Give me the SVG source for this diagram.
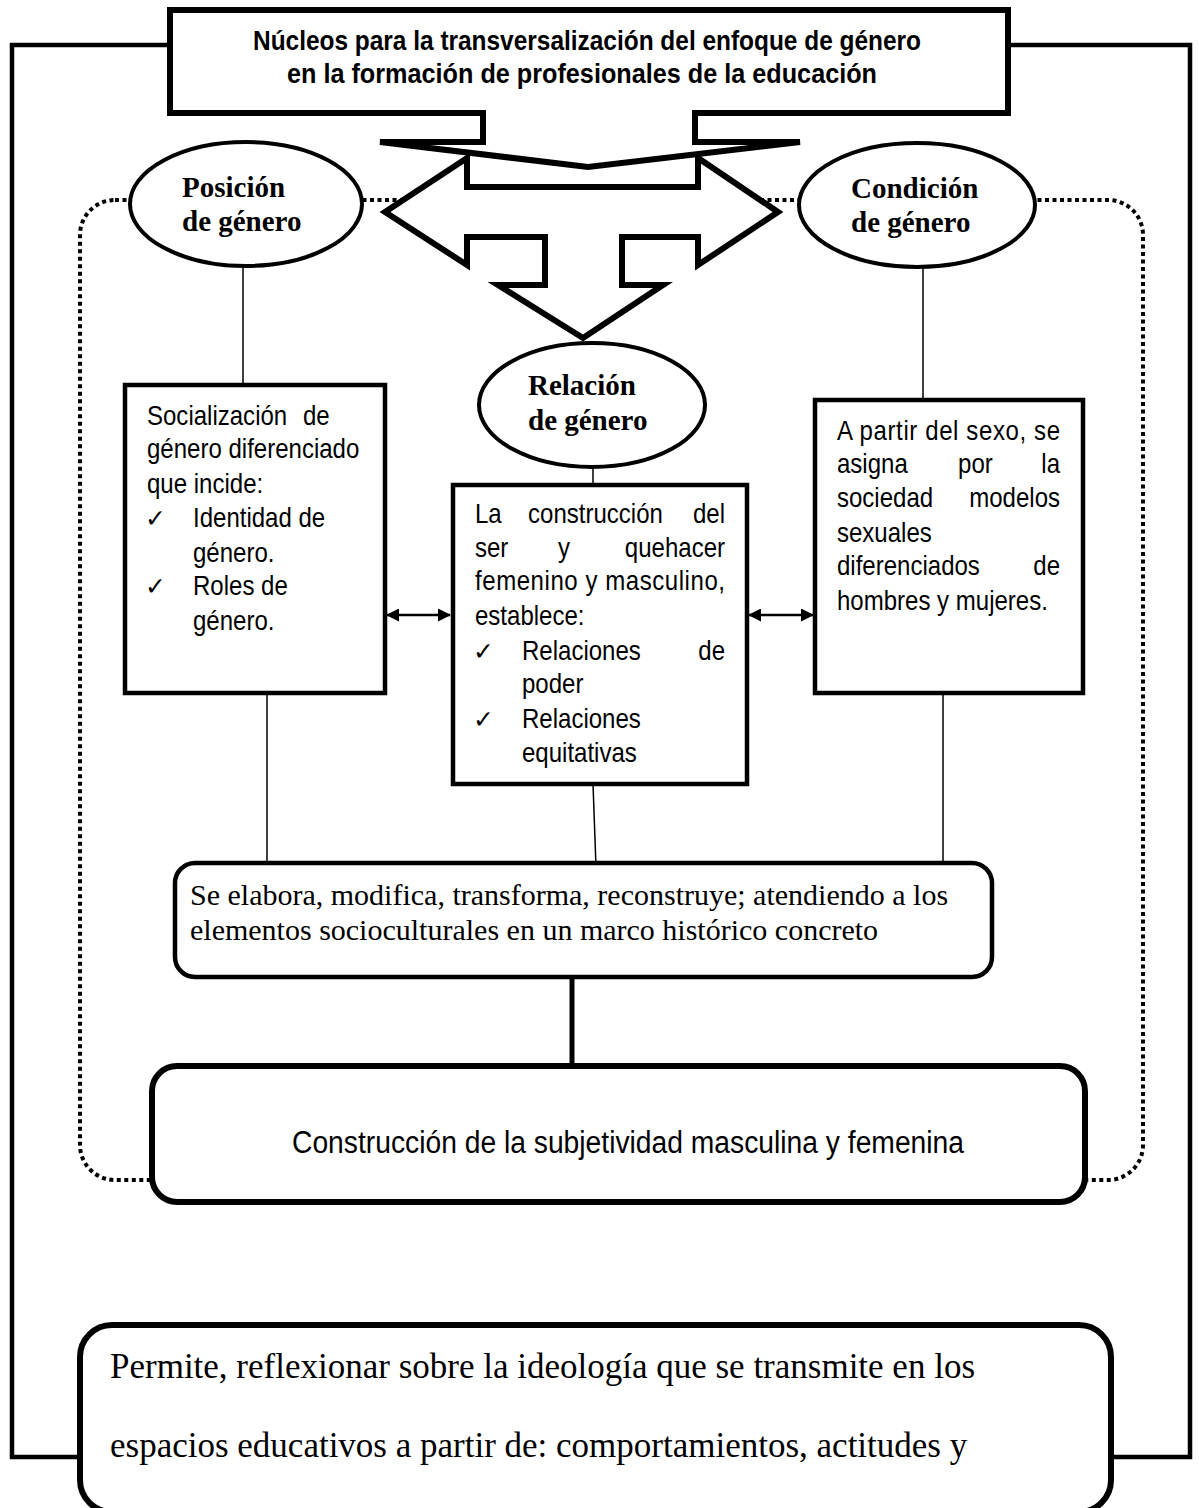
<svg xmlns="http://www.w3.org/2000/svg" width="1199" height="1508" viewBox="0 0 1199 1508">
  <defs>
    <style>
      .box { fill: #fff; stroke: #000; stroke-width: 4.5; }
      .heavy { fill: #fff; stroke: #000; stroke-width: 6; stroke-linejoin: miter; }
      .ell { fill: #fff; stroke: #000; stroke-width: 4; }
      .thin { fill: none; stroke: #000; stroke-width: 1.5; }
      .wire { fill: none; stroke: #000; stroke-width: 4.5; }
      .dots { fill: none; stroke: #000; stroke-width: 4; stroke-dasharray: 4 3.5; }
      .sans { font-family: "Liberation Sans", Arial, sans-serif; font-size: 27px; fill: #000; }
      .head { font-family: "Liberation Sans", Arial, sans-serif; font-size: 27px; font-weight: bold; fill: #000; }
      .big { font-family: "Liberation Sans", Arial, sans-serif; font-size: 31px; fill: #000; }
      .oval { font-family: "Liberation Serif", "Times New Roman", serif; font-size: 29px; font-weight: bold; fill: #000; }
      .serif { font-family: "Liberation Serif", "Times New Roman", serif; font-size: 30px; fill: #000; }
      .serifL { font-family: "Liberation Serif", "Times New Roman", serif; font-size: 35px; fill: #000; }
      .chk { font-family: "DejaVu Sans", sans-serif; font-size: 25px; fill: #000; }
      .end { text-anchor: end; }
    </style>
    <marker id="tip" viewBox="0 0 13 13" refX="12" refY="6.5" markerWidth="13" markerHeight="13" markerUnits="userSpaceOnUse" orient="auto-start-reverse">
      <path d="M0,0 L13,6.5 L0,13 Z" fill="#000"/>
    </marker>
  </defs>

  <!-- dotted frame around the three cores -->
  <g id="frame">
    <rect class="dots" x="80" y="200" width="1063" height="980" rx="35" ry="35"/>
  </g>

  <!-- links between blocks -->
  <g id="connectors">
    <polyline class="wire" points="170,45 12,45 12,1457 80,1457"/>
    <polyline class="wire" points="1008,45 1190,45 1190,1457 1111,1457"/>
    <line class="thin" x1="243" y1="266" x2="243" y2="385"/>
    <line class="thin" x1="923" y1="267" x2="923" y2="412"/>
    <line class="thin" x1="593" y1="467" x2="593" y2="485"/>
    <line class="thin" x1="267" y1="693" x2="267" y2="863"/>
    <line class="thin" x1="593" y1="784" x2="596" y2="867"/>
    <line class="thin" x1="943" y1="693" x2="943" y2="863"/>
    <line x1="387" y1="615" x2="450" y2="615" stroke="#000" stroke-width="2.5" marker-start="url(#tip)" marker-end="url(#tip)"/>
    <line x1="749" y1="615" x2="813" y2="615" stroke="#000" stroke-width="2.5" marker-start="url(#tip)" marker-end="url(#tip)"/>
    <line x1="572" y1="977" x2="572" y2="1066" stroke="#000" stroke-width="5"/>
  </g>

  <!-- title block -->
  <g id="titulo">
    <polygon class="heavy" points="170,10 1008,10 1008,113 695,113 695,142 800,142 588,167 380,142 483,142 483,113 170,113"/>
    <text class="head" x="253" y="50" textLength="668" lengthAdjust="spacingAndGlyphs">Núcleos para la transversalización del enfoque de género</text>
    <text class="head" x="287" y="83" textLength="590" lengthAdjust="spacingAndGlyphs">en  la formación de profesionales de la educación</text>
  </g>

  <!-- three-way arrow -->
  <g id="flecha">
    <polygon class="heavy" points="385,212 467,158 467,187 698,187 698,158 778,212 698,265 698,237 622,237 622,285 663,285 583,338 498,285 545,285 545,237 467,237 467,265"/>
  </g>

  <g id="posicion">
    <ellipse class="ell" cx="246" cy="204" rx="116" ry="62"/>
    <text class="oval" x="182" y="197">Posición</text>
    <text class="oval" x="182" y="231">de género</text>
  </g>

  <g id="condicion">
    <ellipse class="ell" cx="917" cy="205" rx="118" ry="62"/>
    <text class="oval" x="851" y="198">Condición</text>
    <text class="oval" x="851" y="232">de género</text>
  </g>

  <g id="relacion">
    <ellipse class="ell" cx="592" cy="405" rx="113" ry="62"/>
    <text class="oval" x="528" y="395">Relación</text>
    <text class="oval" x="528" y="430">de género</text>
  </g>

  <g id="socializacion">
    <rect class="box" x="125" y="385" width="260" height="308"/>
    <text class="chk" x="145" y="527">✓</text>
    <text class="chk" x="145" y="595">✓</text>
    <!-- narrow body text: horizontal squeeze about the left margin -->
    <g transform="matrix(0.89 0 0 1 16.17 0)">
      <text class="sans" x="147" y="425">Socialización</text>
      <text class="sans" x="322.3" y="425">de</text>
      <text class="sans" x="147" y="458">género diferenciado</text>
      <text class="sans" x="147" y="493">que incide:</text>
      <text class="sans" x="198.7" y="527">Identidad de</text>
      <text class="sans" x="198.7" y="562">género.</text>
      <text class="sans" x="198.7" y="595">Roles de</text>
      <text class="sans" x="198.7" y="630">género.</text>
    </g>
  </g>

  <g id="construccion-ser">
    <rect class="box" x="453" y="485" width="294" height="299"/>
    <text class="chk" x="473" y="660">✓</text>
    <text class="chk" x="473" y="728">✓</text>
    <g transform="matrix(0.89 0 0 1 52.25 0)">
      <text class="sans" x="475" y="523">La</text>
      <text class="sans" x="534.6" y="523">construcción</text>
      <text class="sans end" x="755.9" y="523">del</text>
      <text class="sans" x="475" y="557">ser</text>
      <text class="sans" x="568.3" y="557">y</text>
      <text class="sans end" x="755.9" y="557">quehacer</text>
      <text class="sans" x="475" y="590" textLength="280.9" lengthAdjust="spacing">femenino y masculino,</text>
      <text class="sans" x="475" y="625">establece:</text>
      <text class="sans" x="527.8" y="660">Relaciones</text>
      <text class="sans end" x="755.9" y="660">de</text>
      <text class="sans" x="527.8" y="693">poder</text>
      <text class="sans" x="527.8" y="728">Relaciones</text>
      <text class="sans" x="527.8" y="762">equitativas</text>
    </g>
  </g>

  <g id="asignacion">
    <rect class="box" x="815" y="400" width="268" height="293"/>
    <g transform="matrix(0.89 0 0 1 92.07 0)">
      <text class="sans" x="837" y="440" textLength="250.6" lengthAdjust="spacing">A partir del sexo, se</text>
      <text class="sans" x="837" y="473">asigna</text>
      <text class="sans" x="973" y="473">por</text>
      <text class="sans end" x="1087.6" y="473">la</text>
      <text class="sans" x="837" y="507">sociedad</text>
      <text class="sans end" x="1087.6" y="507">modelos</text>
      <text class="sans" x="837" y="542">sexuales</text>
      <text class="sans" x="837" y="575">diferenciados</text>
      <text class="sans end" x="1087.6" y="575">de</text>
      <text class="sans" x="837" y="610">hombres y mujeres.</text>
    </g>
  </g>

  <g id="elaboracion">
    <rect class="box" x="175" y="863" width="817" height="114" rx="20" ry="20"/>
    <text class="serif" x="190" y="905">Se elabora, modifica, transforma, reconstruye; atendiendo a los</text>
    <text class="serif" x="190" y="940">elementos socioculturales en un marco histórico concreto</text>
  </g>

  <g id="subjetividad">
    <rect class="heavy" x="152" y="1066" width="933" height="136" rx="25" ry="25"/>
    <text class="big" x="292" y="1153" textLength="672" lengthAdjust="spacingAndGlyphs">Construcción de la subjetividad masculina y femenina</text>
  </g>

  <g id="reflexion">
    <rect class="heavy" x="80" y="1325" width="1031" height="187" rx="32" ry="32"/>
    <text class="serifL" x="110" y="1378">Permite, reflexionar sobre la ideología que se transmite en los</text>
    <text class="serifL" x="110" y="1457">espacios educativos a partir de: comportamientos, actitudes y</text>
  </g>
</svg>
